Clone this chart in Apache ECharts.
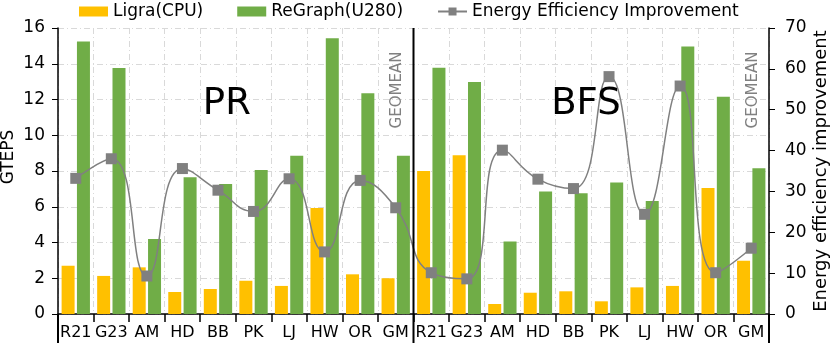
<!DOCTYPE html>
<html style="height: 100%">
<head>
    <meta charset="utf-8">
</head>
<body style="height: 100%; margin: 0">
<div id="container" style="width: 830px; height: 343px"></div>
<script type="text/javascript" src="https://cdn.jsdelivr.net/npm/echarts@6/dist/echarts.min.js"></script>
<script type="text/javascript">
    var dom = document.getElementById("container");
    var myChart = echarts.init(dom);

    var graphs = ['R21', 'G23', 'AM', 'HD', 'BB', 'PK', 'LJ', 'HW', 'OR', 'GM'];
    var categories = graphs.map(function (g) { return 'PR-' + g; })
        .concat(graphs.map(function (g) { return 'BFS-' + g; }));

    var ligra = [2.70, 2.13, 2.61, 1.23, 1.40, 1.86, 1.57, 5.93, 2.22, 2.00,
                 8.00, 8.88, 0.56, 1.19, 1.27, 0.71, 1.49, 1.57, 7.05, 2.98];
    var regraph = [15.25, 13.76, 4.20, 7.65, 7.27, 8.06, 8.86, 15.42, 12.35, 8.86,
                   13.78, 12.98, 4.05, 6.86, 6.75, 7.35, 6.32, 14.96, 12.16, 8.15];
    var efficiency = [33.2, 38.0, 9.3, 35.6, 30.3, 25.1, 33.1, 15.2, 32.7, 26.0,
                      10.1, 8.6, 40.1, 33.0, 30.7, 58.1, 24.4, 55.8, 10.1, 16.1];

    var font = 'DejaVu Sans';
    var gridLine = {show: true, lineStyle: {color: '#d9d9d9', width: 1, type: [6, 3, 1, 3]}};

    var option = {
        animation: false,
        textStyle: {fontFamily: font},
        legend: {
            top: -2,
            left: 74,
            itemWidth: 29,
            itemHeight: 10,
            itemGap: 34,
            textStyle: {fontSize: 17, color: '#000', fontFamily: font},
            data: [
                {name: 'Ligra(CPU)', icon: 'rect'},
                {name: 'ReGraph(U280)', icon: 'rect'},
                {name: 'Energy Efficiency Improvement'}
            ]
        },
        grid: {left: 58, right: 61, top: 28, bottom: 29, outerBoundsMode: 'none'},
        xAxis: {
            type: 'category',
            data: categories,
            axisLine: {lineStyle: {color: '#000', width: 1.5}},
            axisTick: {show: true, interval: 0, length: 8, lineStyle: {color: '#000', width: 1.5}},
            axisLabel: {
                interval: 0, fontSize: 16, color: '#000', margin: 11, fontFamily: font,
                formatter: function (v) { return v.split('-')[1]; }
            },
            splitLine: {show: true, interval: 0, lineStyle: gridLine.lineStyle}
        },
        yAxis: [
            {
                type: 'value', min: 0, max: 16, interval: 2,
                axisLine: {show: true, lineStyle: {color: '#000', width: 1.5}},
                axisTick: {show: true, length: 6, lineStyle: {color: '#000'}},
                axisLabel: {fontSize: 17, color: '#000', margin: 13, fontFamily: font},
                splitLine: gridLine
            },
            {
                type: 'value', min: 0, max: 70, interval: 10,
                axisLine: {show: true, lineStyle: {color: '#000', width: 1.5}},
                axisTick: {show: true, length: 6, lineStyle: {color: '#000'}},
                axisLabel: {fontSize: 17, color: '#000', margin: 16, fontFamily: font},
                splitLine: {show: false}
            }
        ],
        series: [
            {
                name: 'Ligra(CPU)', type: 'bar', data: ligra,
                barWidth: 13, barGap: '18%',
                itemStyle: {color: '#FFC000'}
            },
            {
                name: 'ReGraph(U280)', type: 'bar', data: regraph,
                barWidth: 13,
                itemStyle: {color: '#70AD47'}
            },
            {
                name: 'Energy Efficiency Improvement', type: 'line', yAxisIndex: 1,
                data: efficiency, smooth: 0.5,
                symbol: 'rect', symbolSize: 11,
                lineStyle: {color: '#808080', width: 1.5},
                itemStyle: {color: '#808080'},
                z: 5
            }
        ]
    };
    myChart.setOption(option);

    // separators and labels placed from the axis scale
    var pTop = myChart.convertToPixel({yAxisIndex: 0}, 16);
    var pBot = myChart.convertToPixel({yAxisIndex: 0}, 0);
    var xL = myChart.convertToPixel({xAxisIndex: 0}, 0);
    var xR = myChart.convertToPixel({xAxisIndex: 0}, 19);
    var step = myChart.convertToPixel({xAxisIndex: 0}, 1) - xL;
    var left = xL - step / 2, right = xR + step / 2, mid = xL + step * 9.5;

    function vline(x, y1, y2) {
        return {type: 'line', shape: {x1: x, y1: y1, x2: x, y2: y2},
            style: {stroke: '#000', lineWidth: 2}, z: 10};
    }
    function label(text, x, y, size, color, rot) {
        return {type: 'text', x: x, y: y, rotation: rot || 0, z: 10,
            style: {text: text, fontSize: size, fill: color, fontFamily: font,
                align: 'center', verticalAlign: 'middle'}};
    }
    myChart.setOption({
        graphic: [
            vline(mid, pTop, 343),
            vline(left, pBot, 343),
            vline(right, pBot, 343),
            label('PR', xL + step * 4.25, 104, 37, '#000'),
            label('BFS', xL + step * 14.35, 104, 37, '#000'),
            label('GEOMEAN', xL + step * 9.05, 90, 15, '#808080', Math.PI / 2),
            label('GEOMEAN', xL + step * 19.05, 90, 15, '#808080', Math.PI / 2),
            label('GTEPS', 9, 157, 17, '#000', Math.PI / 2),
            label('Energy efficiency improvement', right + 52, 171, 18, '#000', Math.PI / 2)
        ]
    });
</script>
</body>
</html>
